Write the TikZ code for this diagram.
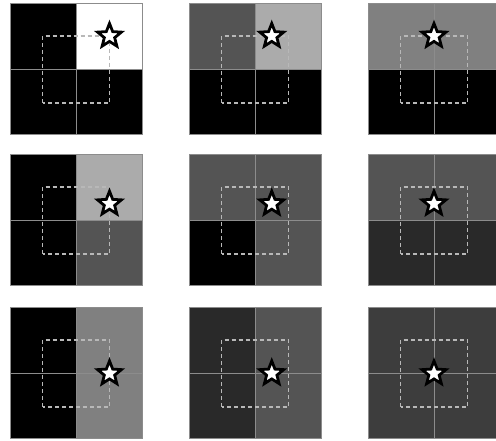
\documentclass[tikz,border=0pt]{standalone}
\usetikzlibrary{shapes.geometric}

\tikzset{lin/.style={draw=black!45, line width=1pt},
  disc/.style={draw=black!28, line width=1.3pt, dash pattern=on 4pt off 3pt},
  estr/.style={star, star points=5, star point ratio=2.3, minimum size=25pt, inner sep=0pt,
    fill=white, draw=black, line width=2.8pt}}
% celdas: nombre, gris de SI SD II ID, posicion de la estrella
\newcommand{\celdas}[7]{%
  \fill[black!#2] (0,65.5) rectangle (66,131);  \fill[black!#3] (66,65.5) rectangle (132,131);
  \fill[black!#4] (0,0) rectangle (66,65.5);    \fill[black!#5] (66,0) rectangle (132,65.5);
  \draw[lin] (0,0) rectangle (132,131) (66,0) -- (66,131) (0,65.5) -- (132,65.5);
  \draw[disc] (32.5,32) rectangle (99.5,99);
  \node[estr] (#1) at (#6,#7) {};}

\begin{document}
\begin{tikzpicture}[x=1pt, y=1pt]
  \path[use as bounding box, clip] (0,0) rectangle (496,441);
  \begin{scope}[xshift=10pt, yshift=306pt]  \celdas{e1}{100}{0}{100}{100}{99.5}{99}         \end{scope}
  \begin{scope}[xshift=189pt, yshift=306pt] \celdas{e2}{67}{33}{100}{100}{82.75}{99}       \end{scope}
  \begin{scope}[xshift=368pt, yshift=306pt] \celdas{e3}{50}{50}{100}{100}{66}{99}          \end{scope}
  \begin{scope}[xshift=10pt, yshift=155pt]  \celdas{e4}{100}{33}{100}{67}{99.5}{82.25}     \end{scope}
  \begin{scope}[xshift=189pt, yshift=155pt] \celdas{e5}{67}{67}{100}{67}{82.75}{82.25}     \end{scope}
  \begin{scope}[xshift=368pt, yshift=155pt] \celdas{e6}{67}{67}{84}{84}{66}{82.25}         \end{scope}
  \begin{scope}[xshift=10pt, yshift=2pt]    \celdas{e7}{100}{50}{100}{50}{99.5}{65.5}      \end{scope}
  \begin{scope}[xshift=189pt, yshift=2pt]   \celdas{e8}{84}{67}{84}{67}{82.75}{65.5}       \end{scope}
  \begin{scope}[xshift=368pt, yshift=2pt]   \celdas{e9}{76}{76}{76}{76}{66}{65.5}          \end{scope}
\end{tikzpicture}
\end{document}
